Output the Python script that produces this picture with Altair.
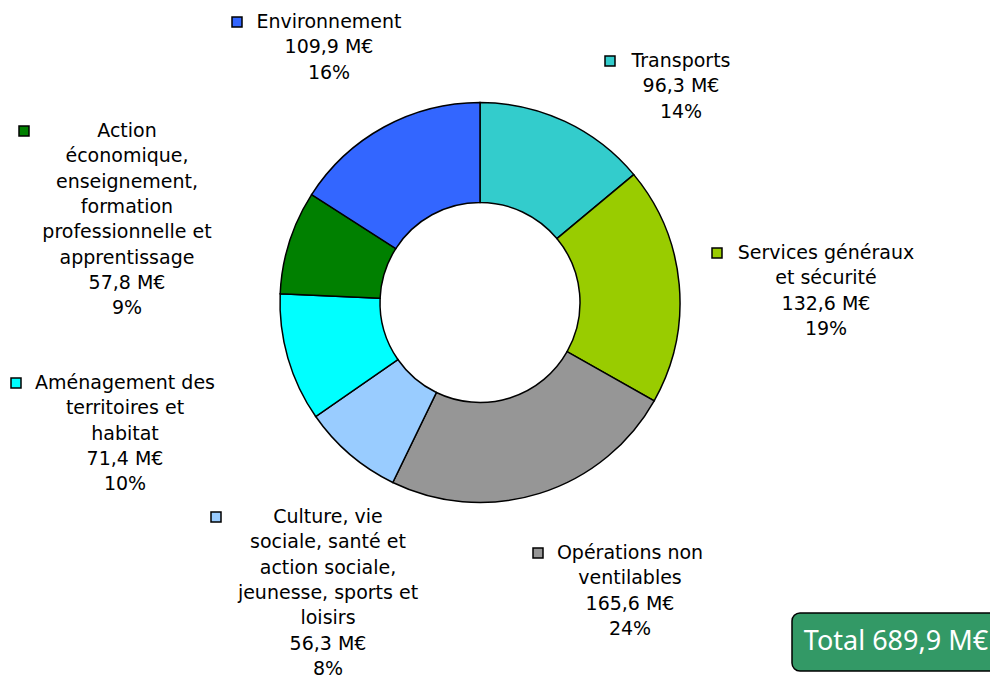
import altair as alt
import pandas as pd

# ---- data ----
categories = [
    "Transports",
    "Services généraux et sécurité",
    "Opérations non ventilables",
    "Culture, vie sociale, santé et action sociale, jeunesse, sports et loisirs",
    "Aménagement des territoires et habitat",
    "Action économique, enseignement, formation professionnelle et apprentissage",
    "Environnement",
]
values = [96.3, 132.6, 165.6, 56.3, 71.4, 57.8, 109.9]
amount_labels = ["96,3 M€", "132,6 M€", "165,6 M€", "56,3 M€", "71,4 M€", "57,8 M€", "109,9 M€"]
pct_labels = ["14%", "19%", "24%", "8%", "10%", "9%", "16%"]
name_lines = [
    ["Transports"],
    ["Services généraux", "et sécurité"],
    ["Opérations non", "ventilables"],
    ["Culture, vie", "sociale, santé et", "action sociale,", "jeunesse, sports et", "loisirs"],
    ["Aménagement des", "territoires et", "habitat"],
    ["Action", "économique,", "enseignement,", "formation", "professionnelle et", "apprentissage"],
    ["Environnement"],
]
colors = ["#33CCCC", "#99CC00", "#969696", "#99CCFF", "#00FFFF", "#008000", "#3366FF"]
total_label = "Total 689,9 M€"

# ---- layout (chart pixel coords, page minus 8px margin) ----
W, H = 982, 674
CX, CY = 472, 294.5
R_OUT, R_IN = 200, 100
LINE_H = 25.3
# (text centre x, first line y, key square x)
label_layout = [
    (673, 53, 602),
    (818, 245, 709),
    (622, 545, 530),
    (320, 509, 208),
    (117, 375, 8),
    (119, 123, 16),
    (321, 14, 229),
]

pie_df = pd.DataFrame({
    "cat": categories,
    "value": values,
    "order": list(range(len(categories))),
})

text_rows = []
key_rows = []
for i, cat in enumerate(categories):
    lines = name_lines[i] + [amount_labels[i], pct_labels[i]]
    tx, ty, kx = label_layout[i]
    for j, ln in enumerate(lines):
        text_rows.append({"cat": cat, "line": ln, "px": tx, "py": ty + j * LINE_H})
    key_rows.append({"cat": cat, "px": kx, "py": ty})
text_df = pd.DataFrame(text_rows)
key_df = pd.DataFrame(key_rows)

color_scale = alt.Scale(domain=categories, range=colors)

donut = alt.Chart(pie_df).mark_arc(
    radius=R_OUT, innerRadius=R_IN, stroke="black", strokeWidth=1.5
).encode(
    theta=alt.Theta("value:Q", stack=True),
    order=alt.Order("order:Q", sort="ascending"),
    color=alt.Color("cat:N", scale=color_scale, legend=None),
    x=alt.value(CX),
    y=alt.value(CY),
)

labels = alt.Chart(text_df).mark_text(
    font="DejaVu Sans", fontSize=19, color="black", align="center", baseline="middle"
).encode(
    x=alt.X("px:Q", scale=None),
    y=alt.Y("py:Q", scale=None),
    text="line:N",
)

keys = alt.Chart(key_df).mark_square(
    size=100, stroke="black", strokeWidth=1.5, opacity=1, filled=True
).encode(
    x=alt.X("px:Q", scale=None),
    y=alt.Y("py:Q", scale=None),
    fill=alt.Fill("cat:N", scale=color_scale, legend=None),
)

box = alt.Chart(pd.DataFrame({"t": [total_label]})).mark_rect(
    fill="#339966", stroke="black", strokeWidth=1.5, cornerRadius=8
).encode(
    x=alt.value(784), x2=alt.value(992), y=alt.value(605), y2=alt.value(663)
)

total_text = alt.Chart(pd.DataFrame({"t": [total_label]})).mark_text(
    font="Noto Sans", fontSize=27, color="white", align="center", baseline="middle"
).encode(
    x=alt.value(888), y=alt.value(634), text="t:N"
)

chart = alt.layer(donut, keys, labels, box, total_text).properties(
    width=W, height=H, autosize=alt.AutoSizeParams(type="none"), padding=0
).configure_view(stroke=None)

chart.save("out.html", embed_options={"renderer": "svg", "actions": False})
